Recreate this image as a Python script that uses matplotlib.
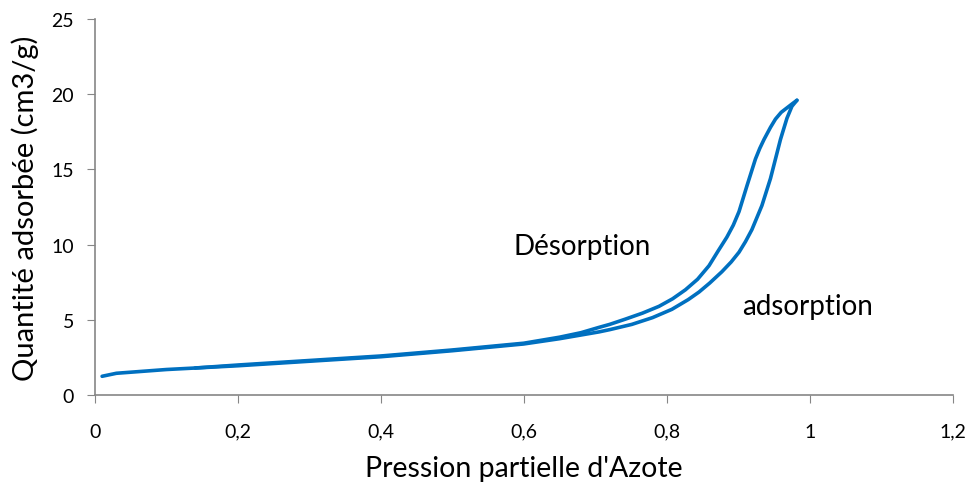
import matplotlib
matplotlib.use("Agg")
import matplotlib.pyplot as plt

plt.rcParams['font.family'] = ['Lato', 'DejaVu Sans']

# adsorption branch (lower)
ads_x = [0.01, 0.03, 0.1, 0.2, 0.3, 0.4, 0.5, 0.6, 0.65, 0.705, 0.72, 0.751,
         0.78, 0.807, 0.83, 0.845, 0.86, 0.877, 0.89, 0.901, 0.91, 0.919,
         0.926, 0.933, 0.945, 0.952, 0.959, 0.968, 0.975, 0.982]
ads_y = [1.25, 1.45, 1.7, 1.95, 2.25, 2.55, 2.95, 3.4, 3.75, 4.2, 4.35, 4.7,
         5.15, 5.7, 6.35, 6.85, 7.45, 8.2, 8.85, 9.5, 10.2, 11.0,
         11.8, 12.6, 14.4, 15.7, 17.0, 18.4, 19.2, 19.6]

# desorption branch (upper)
des_x = [0.982, 0.975, 0.96, 0.952, 0.945, 0.936, 0.93, 0.924, 0.918, 0.912,
         0.901, 0.893, 0.884, 0.872, 0.859, 0.843, 0.826, 0.808, 0.789,
         0.766, 0.742, 0.72, 0.705, 0.68, 0.65, 0.6, 0.5, 0.4, 0.3, 0.2, 0.14]
des_y = [19.6, 19.35, 18.8, 18.35, 17.8, 17.0, 16.4, 15.7, 14.8, 13.9,
         12.2, 11.3, 10.5, 9.6, 8.6, 7.7, 7.0, 6.4, 5.9,
         5.45, 5.05, 4.7, 4.5, 4.15, 3.85, 3.45, 3.0, 2.6, 2.3, 2.0, 1.8]

xticks = [0, 0.2, 0.4, 0.6, 0.8, 1.0, 1.2]
xlabels = ['0', '0,2', '0,4', '0,6', '0,8', '1', '1,2']
yticks = [0, 5, 10, 15, 20, 25]

fig = plt.figure(figsize=(9.66, 4.89), dpi=100)
ax = fig.add_axes([0.0983, 0.19, 0.888, 0.769])

ax.plot(ads_x, ads_y, color='#0070C0', lw=2.6, solid_capstyle='round')
ax.plot(des_x, des_y, color='#0070C0', lw=2.6, solid_capstyle='round')

ax.set_xlim(0, 1.2)
ax.set_ylim(0, 25)
ax.set_xticks(xticks)
ax.set_xticklabels(xlabels)
ax.set_yticks(yticks)

for s in ['top', 'right']:
    ax.spines[s].set_visible(False)
for s in ['left', 'bottom']:
    ax.spines[s].set_color('#868686')
    ax.spines[s].set_linewidth(1.2)
ax.tick_params(direction='out', length=6, color='#868686', labelsize=14)
ax.tick_params(axis='x', pad=14)
ax.tick_params(axis='y', pad=9)

ax.set_xlabel("Pression partielle d'Azote", fontsize=20.5, labelpad=11)
ax.set_ylabel("Quantité adsorbée (cm3/g)", fontsize=21, labelpad=9)

ax.text(0.585, 9.9, "Désorption", fontsize=20, ha='left', va='center')
ax.text(0.905, 5.9, "adsorption", fontsize=20, ha='left', va='center')

fig.savefig("out.png", dpi=100)
